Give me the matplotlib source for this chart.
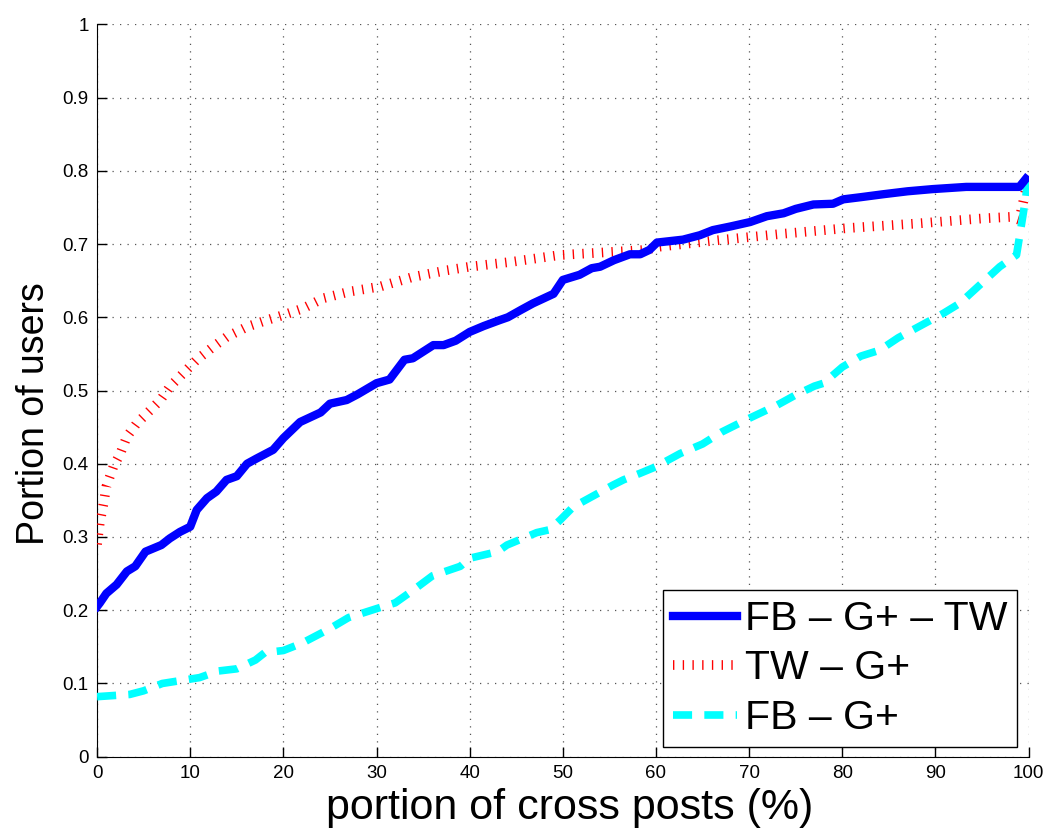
import matplotlib
matplotlib.use('Agg')
import matplotlib.pyplot as plt

plt.rcParams['font.family'] = ['Liberation Sans', 'DejaVu Sans']

# FB - G+ - TW (blue, solid)
x_fgt = [0, 0.3, 1.0, 2.1, 3.2, 4.1, 5.2, 6.9, 7.8, 8.9, 10.0, 10.7, 11.8, 12.8, 13.9,
         15.0, 16.1, 17.1, 18.9, 20.0, 21.8, 24.0, 25.0, 26.8, 28.0, 30.0, 31.4, 33.0,
         33.9, 36.1, 37.2, 38.5, 40.0, 41.5, 43.2, 44.1, 45.5, 46.8, 49.0, 50.0, 51.8,
         53.1, 54.0, 55.5, 57.2, 58.3, 59.3, 60.1, 62.9, 64.7, 66.1, 68.0, 70.1, 71.9,
         73.7, 75.0, 76.9, 79.0, 80.1, 82.0, 84.4, 87.0, 89.7, 93.3, 99.0, 99.7]
y_fgt = [0.205, 0.21, 0.223, 0.235, 0.253, 0.26, 0.28, 0.289, 0.298, 0.307, 0.314, 0.337,
         0.353, 0.362, 0.378, 0.383, 0.40, 0.407, 0.419, 0.435, 0.457, 0.47, 0.482, 0.487,
         0.495, 0.51, 0.515, 0.542, 0.544, 0.562, 0.562, 0.568, 0.58, 0.588, 0.596, 0.60,
         0.61, 0.619, 0.632, 0.651, 0.658, 0.667, 0.669, 0.678, 0.686, 0.686, 0.692, 0.702,
         0.706, 0.712, 0.719, 0.724, 0.730, 0.738, 0.742, 0.748, 0.754, 0.755, 0.761,
         0.764, 0.768, 0.772, 0.775, 0.778, 0.778, 0.789]

# TW - G+ (red, dotted)
x_tg = [0, 0.3, 0.7, 1.0, 1.75, 2.5, 3.2, 4.25, 5.7, 6.8, 7.8, 9.6, 10.7, 12.5, 13.9,
        16.1, 18.2, 20.0, 22.1, 24.3, 27.1, 30.4, 33.9, 37.5, 40.0, 44.7, 49.7, 55.0,
        59.0, 60.1, 66.5, 73.6, 80.8, 88.0, 95.1, 98.0, 99.0, 99.8]
y_tg = [0.29, 0.32, 0.346, 0.369, 0.396, 0.414, 0.437, 0.455, 0.473, 0.487, 0.505,
        0.528, 0.542, 0.56, 0.573, 0.587, 0.596, 0.603, 0.612, 0.626, 0.635, 0.642,
        0.655, 0.664, 0.669, 0.676, 0.685, 0.689, 0.692, 0.696, 0.705, 0.714, 0.722,
        0.728, 0.735, 0.737, 0.733, 0.78]

# FB - G+ (cyan, dashed)
x_fg = [0, 3.5, 5, 7, 11, 13, 15, 17, 18, 20, 22, 25, 27, 30.7, 32, 34, 36, 39, 40,
        43, 44, 47.2, 48.6, 49.7, 51.1, 55.4, 56.5, 58.3, 60, 62.6, 65, 67, 70, 73, 75,
        77, 78, 80, 82, 84, 86, 90.8, 92.6, 96.9, 98.7, 99.2, 99.7, 99.9]
y_fg = [0.082, 0.085, 0.09, 0.10, 0.108, 0.117, 0.12, 0.132, 0.142, 0.145, 0.155,
        0.175, 0.19, 0.205, 0.21, 0.228, 0.247, 0.26, 0.271, 0.28, 0.289, 0.306, 0.31,
        0.323, 0.341, 0.371, 0.378, 0.387, 0.396, 0.414, 0.427, 0.443, 0.462, 0.48,
        0.494, 0.506, 0.51, 0.532, 0.547, 0.555, 0.572, 0.605, 0.619, 0.669, 0.685,
        0.724, 0.764, 0.79]

fig = plt.figure(figsize=(10.55, 8.38), dpi=100)
ax = fig.add_axes([0.092, 0.097, 0.883, 0.874])

ax.plot(x_fgt, y_fgt, color='#0000ff', linewidth=6, label='FB – G+ – TW',
        solid_joinstyle='round', zorder=4)
ax.plot(x_tg, y_tg, color='#ff0000', linewidth=7, dashes=(0.14, 0.86),
        dash_capstyle='butt', label='TW – G+', zorder=3)
ax.plot(x_fg, y_fg, color='#00ffff', linewidth=5.5, dashes=(2.5, 1.6),
        label='FB – G+', zorder=3)

ax.set_xlim(0, 100)
ax.set_ylim(0, 1)
ax.set_xticks(range(0, 101, 10))
ax.set_yticks([i / 10 for i in range(11)])
ax.set_yticklabels(['0'] + ['0.%d' % i for i in range(1, 10)] + ['1'])
ax.tick_params(direction='in', length=7, width=1, labelsize=13.5, pad=6)

ax.grid(True, linestyle=(0, (1, 5)), color='#555555', linewidth=0.9)
ax.spines['top'].set_visible(False)
ax.spines['right'].set_visible(False)

ax.set_xlabel('portion of cross posts (%)', fontsize=31)
ax.xaxis.set_label_coords(0.507, -0.043)
ax.set_ylabel('Portion of users', fontsize=27)
ax.yaxis.set_label_coords(-0.048, 0.468)

leg = ax.legend(loc='lower right', bbox_to_anchor=(0.988, 0.013), fontsize=29.5,
                handlelength=1.55, handletextpad=0.2, labelspacing=0.28,
                borderaxespad=0, fancybox=False, framealpha=1, borderpad=0.25)
leg.get_frame().set_edgecolor('black')
leg.get_frame().set_linewidth(1)

fig.savefig('out.png', dpi=100)
